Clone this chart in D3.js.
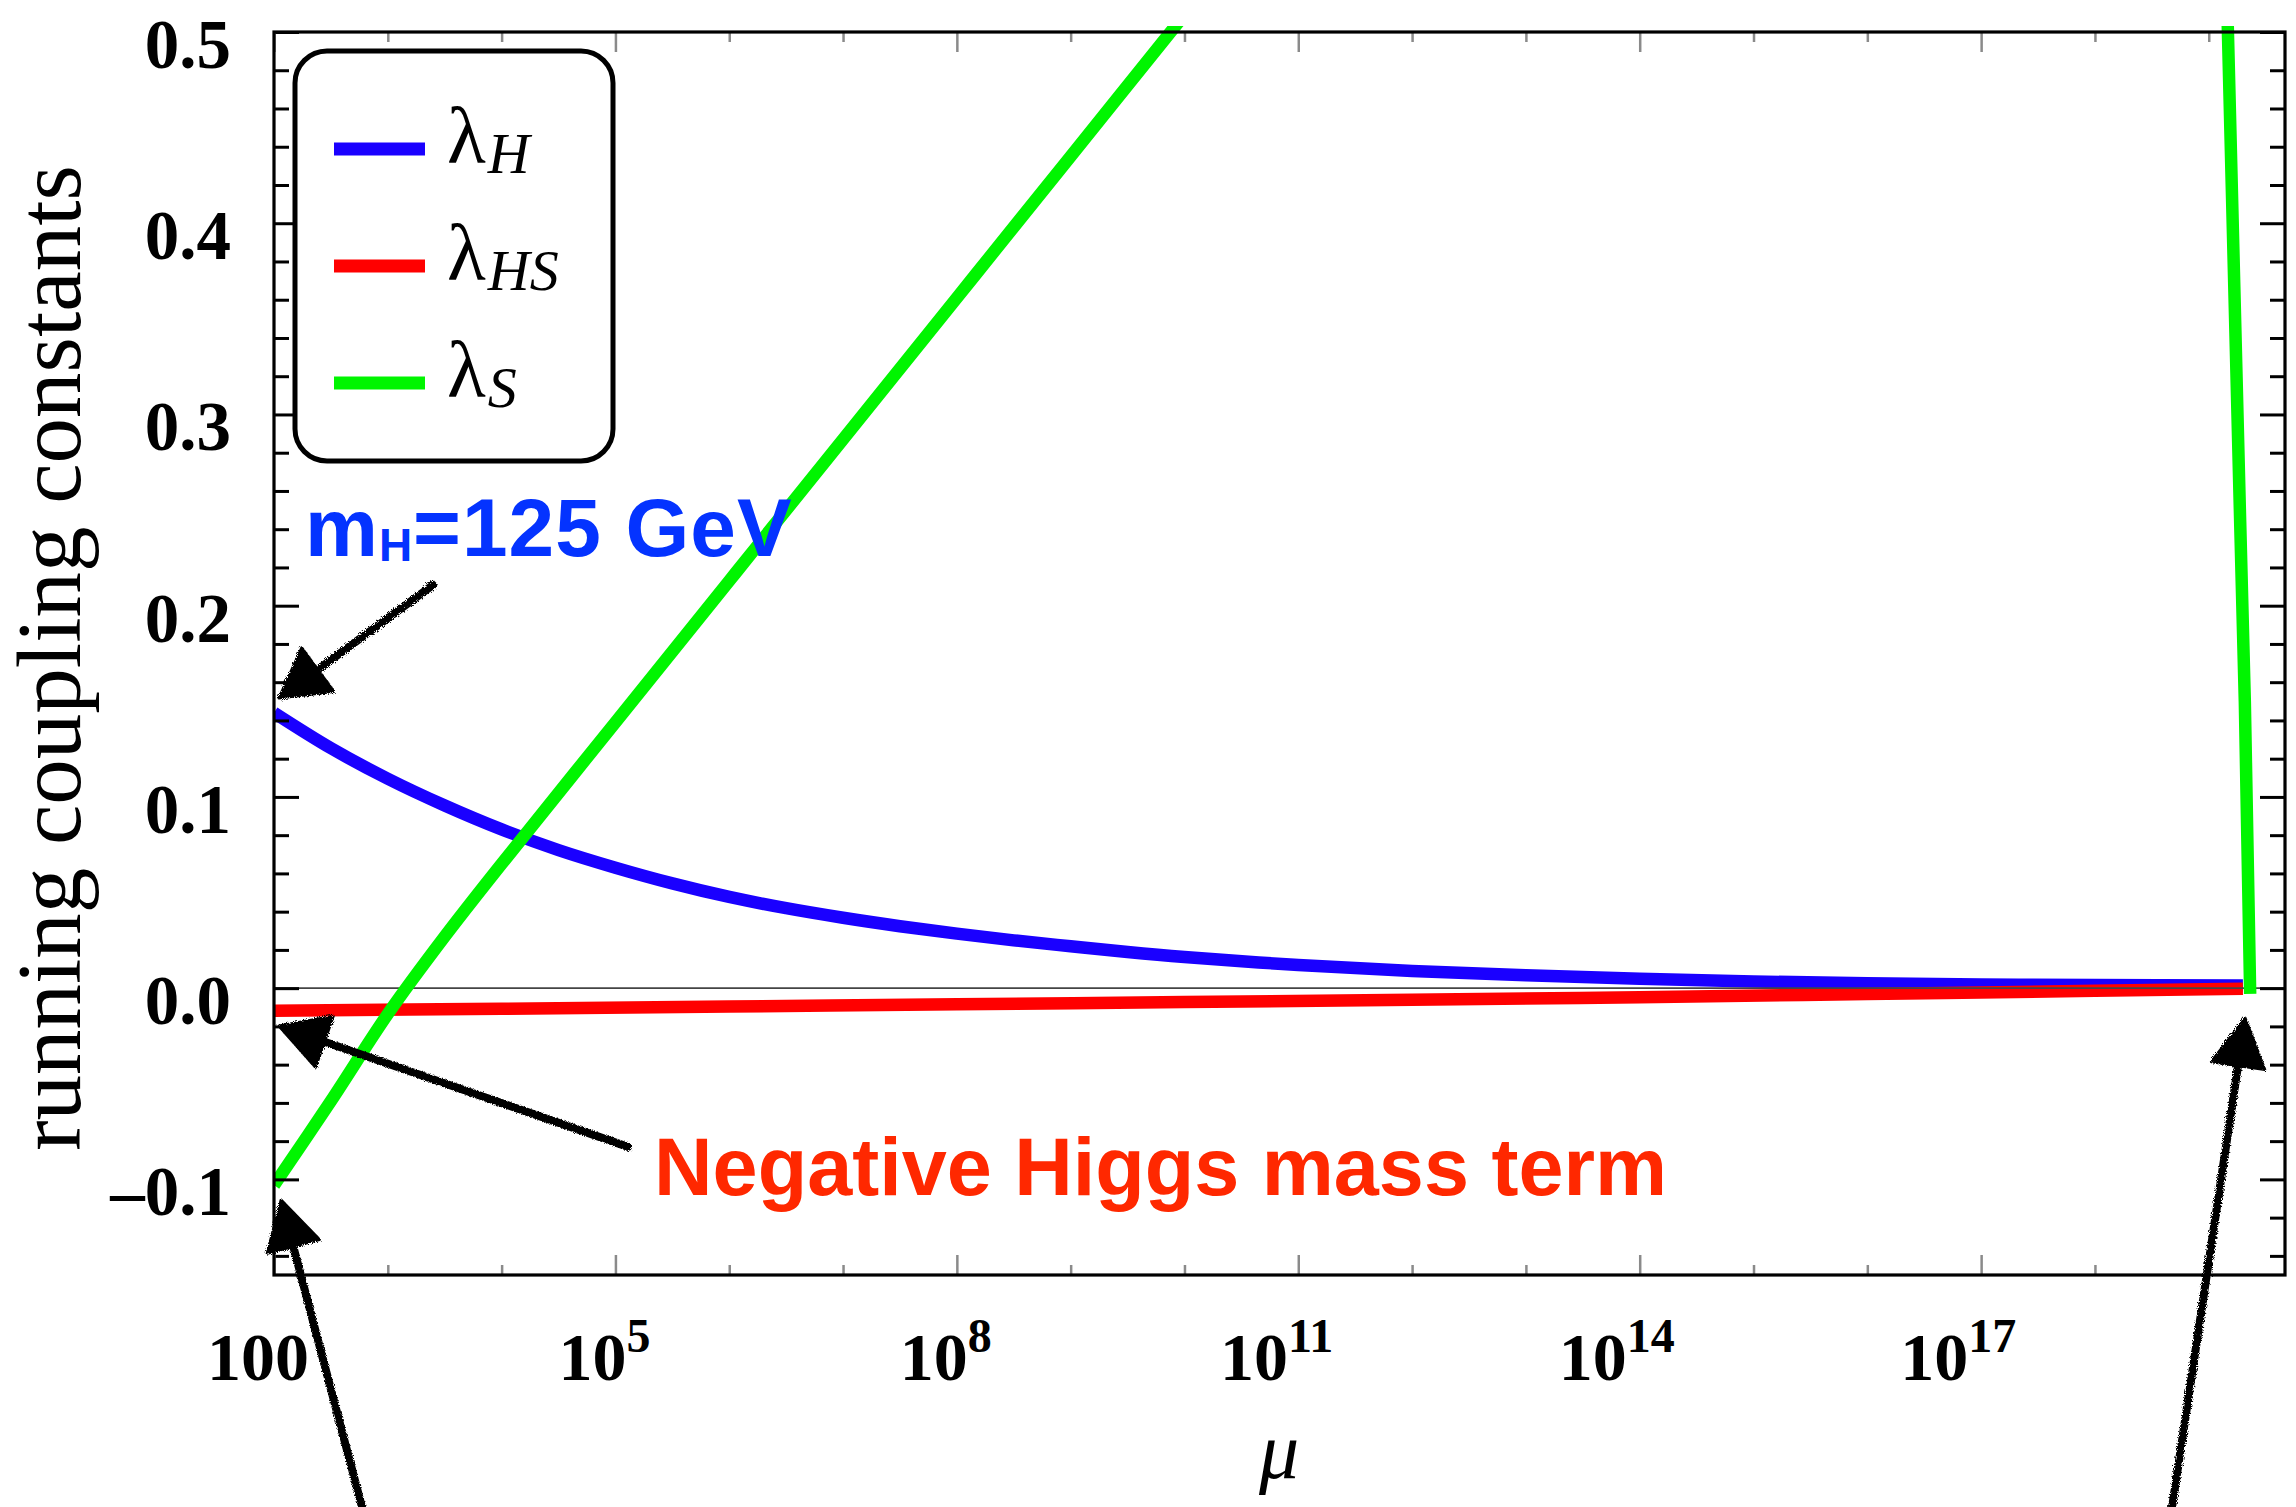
<!DOCTYPE html>
<html><head><meta charset="utf-8">
<script src="https://cdn.jsdelivr.net/npm/d3@7"></script>
<style>html,body{margin:0;padding:0;background:#fff;} svg{display:block;}</style>
</head><body>
<svg id="chart" width="2296" height="1507"></svg>
<script>
// ---------- data (x values are log10 of mu) ----------
const muExpH   = [2.0, 2.5, 3.0, 3.5, 4.0, 4.5, 5.0, 5.5, 6.0, 6.5, 7.0, 7.5, 8.0, 8.5, 9.0, 9.5, 10.0, 11.0, 12.0, 13.0, 14.0, 15.0, 16.0, 17.0, 18.0, 19.30];
const lambdaH  = [0.1440, 0.1255, 0.1095, 0.0955, 0.0830, 0.0722, 0.0630, 0.0548, 0.0477, 0.0418, 0.0368, 0.0324, 0.0285, 0.0250, 0.0219, 0.0189, 0.0163, 0.0121, 0.0090, 0.0067, 0.0049, 0.0035, 0.0025, 0.0019, 0.0016, 0.0014];

const muExpHS  = [2.0, 4.0, 6.0, 8.0, 10.0, 12.0, 14.0, 16.0, 18.0, 19.30];
const lambdaHS = [-0.0118, -0.0108, -0.0096, -0.0084, -0.0073, -0.0061, -0.0047, -0.0031, -0.0014, -0.0003];

const muExpS   = [2.0, 2.5, 3.0, 3.5, 4.0, 5.0, 6.0, 7.0, 8.0, 9.0, 10.0];
const lambdaS  = [-0.103, -0.059, -0.0135, 0.027, 0.065, 0.139, 0.213, 0.287, 0.361, 0.435, 0.509];

const muExpSEnd   = [19.160, 19.276, 19.317, 19.364];
const lambdaSEnd  = [0.52, 0.244, 0.150, -0.003];

const yTickValues = [-0.1, 0.0, 0.1, 0.2, 0.3, 0.4, 0.5];
const yTickLabels = ["\u20130.1", "0.0", "0.1", "0.2", "0.3", "0.4", "0.5"];
const xTickExps   = [2, 5, 8, 11, 14, 17];
const xTickBase   = ["100", "10", "10", "10", "10", "10"];
const xTickSup    = ["", "5", "8", "11", "14", "17"];
const legendSub   = ["H", "HS", "S"];
const seriesColors = ["#1a00ff", "#ff0000", "#00f500"];

// ---------- layout ----------
const W = 2296, H = 1507;
const L = 274, R = 2285, T = 32, B = 1275;
const serif = "'Liberation Serif','Times New Roman',serif";
const sans = "'Liberation Sans',Arial,sans-serif";

const svg = d3.select("#chart");
svg.append("rect").attr("width", W).attr("height", H).attr("fill", "#fff");

const defs = svg.append("defs");
defs.append("clipPath").attr("id", "plotclip").append("rect")
  .attr("x", L).attr("y", T - 6).attr("width", R - L).attr("height", B - T + 6);
const f = defs.append("filter").attr("id", "rough").attr("x", "-20%").attr("y", "-20%").attr("width", "140%").attr("height", "140%");
f.append("feTurbulence").attr("type", "fractalNoise").attr("baseFrequency", 1.1).attr("numOctaves", 2).attr("seed", 3).attr("result", "n");
f.append("feDisplacementMap").attr("in", "SourceGraphic").attr("in2", "n").attr("scale", 5);

const x = d3.scaleLog().domain([1e2, Math.pow(10, 19.67)]).range([L, R]);
const y = d3.scaleLinear().domain([-0.15, 0.5]).range([B, T]);

const line = d3.line()
  .x(d => x(Math.pow(10, d[0])))
  .y(d => y(d[1]))
  .curve(d3.curveCatmullRom.alpha(0.5));

const zip = (a, b) => a.map((v, i) => [v, b[i]]);

const plot = svg.append("g").attr("clip-path", "url(#plotclip)");
const lw = 12.5;
plot.append("path").datum(zip(muExpH, lambdaH)).attr("d", line)
  .attr("fill", "none").attr("stroke", seriesColors[0]).attr("stroke-width", lw);
plot.append("path").datum(zip(muExpHS, lambdaHS)).attr("d", line)
  .attr("fill", "none").attr("stroke", seriesColors[1]).attr("stroke-width", lw);
// zero axis line
plot.append("line").attr("x1", L).attr("x2", R).attr("y1", y(0)).attr("y2", y(0))
  .attr("stroke", "#444").attr("stroke-width", 1.6);
plot.append("path").datum(zip(muExpS, lambdaS)).attr("d", line)
  .attr("fill", "none").attr("stroke", seriesColors[2]).attr("stroke-width", lw);
plot.append("path").datum(zip(muExpSEnd, lambdaSEnd)).attr("d", d3.line().x(d => x(Math.pow(10, d[0]))).y(d => y(d[1])))
  .attr("fill", "none").attr("stroke", seriesColors[2]).attr("stroke-width", lw);

// ---------- frame ticks ----------
const yMinor = d3.range(-7, 25).filter(i => i % 5 !== 0).map(i => i * 0.02);
const xMinor = d3.range(3, 20).filter(e => !xTickExps.includes(e)).map(e => Math.pow(10, e));
const xMajor = xTickExps.map(e => Math.pow(10, e));

function styleAxis(g, color, w) {
  g.select(".domain").remove();
  g.selectAll("line").attr("stroke", color).attr("stroke-width", w);
  g.selectAll("text").remove();
}
svg.append("g").attr("transform", `translate(${L},0)`).call(d3.axisLeft(y).tickValues(yTickValues).tickSize(-25)).call(g => styleAxis(g, "#000", 3));
svg.append("g").attr("transform", `translate(${L},0)`).call(d3.axisLeft(y).tickValues(yMinor).tickSize(-15)).call(g => styleAxis(g, "#000", 3));
svg.append("g").attr("transform", `translate(${R},0)`).call(d3.axisRight(y).tickValues(yTickValues).tickSize(-25)).call(g => styleAxis(g, "#000", 3));
svg.append("g").attr("transform", `translate(${R},0)`).call(d3.axisRight(y).tickValues(yMinor).tickSize(-15)).call(g => styleAxis(g, "#000", 3));
svg.append("g").attr("transform", `translate(0,${B})`).call(d3.axisBottom(x).tickValues(xMajor).tickSize(-20)).call(g => styleAxis(g, "#8a8a8a", 2.5));
svg.append("g").attr("transform", `translate(0,${B})`).call(d3.axisBottom(x).tickValues(xMinor).tickSize(-10)).call(g => styleAxis(g, "#8a8a8a", 2.5));
svg.append("g").attr("transform", `translate(0,${T})`).call(d3.axisTop(x).tickValues(xMajor).tickSize(-20)).call(g => styleAxis(g, "#8a8a8a", 2.5));
svg.append("g").attr("transform", `translate(0,${T})`).call(d3.axisTop(x).tickValues(xMinor).tickSize(-10)).call(g => styleAxis(g, "#8a8a8a", 2.5));

svg.append("rect").attr("x", L).attr("y", T).attr("width", R - L).attr("height", B - T)
  .attr("fill", "none").attr("stroke", "#000").attr("stroke-width", 3.2);

// ---------- tick labels ----------
svg.append("g").selectAll("text").data(yTickValues).join("text")
  .attr("x", 231).attr("y", d => y(d) + 36)
  .attr("text-anchor", "end").attr("font-family", serif).attr("font-weight", "bold")
  .attr("font-size", 69).attr("fill", "#000")
  .text((d, i) => yTickLabels[i]);

const xl = svg.append("g").selectAll("text").data(xTickExps).join("text")
  .attr("x", d => x(Math.pow(10, d)) + 35).attr("y", 1380)
  .attr("text-anchor", "end").attr("font-family", serif).attr("font-weight", "bold")
  .attr("font-size", 68).attr("fill", "#000");
xl.append("tspan").text((d, i) => xTickBase[i]);
xl.append("tspan").attr("dy", -28).attr("font-size", 48).text((d, i) => xTickSup[i]);

// axis titles
svg.append("text").attr("transform", "translate(80,658) rotate(-90)")
  .attr("text-anchor", "middle").attr("font-family", serif).attr("font-size", 91)
  .attr("fill", "#000").text("running coupling constants");
svg.append("text").attr("x", 1279).attr("y", 1478).attr("text-anchor", "middle")
  .attr("font-family", serif).attr("font-style", "italic").attr("font-size", 80)
  .attr("fill", "#000").text("\u03bc");

// ---------- legend ----------
const lg = svg.append("g");
lg.append("rect").attr("x", 295).attr("y", 51).attr("width", 318).attr("height", 410)
  .attr("rx", 32).attr("ry", 32).attr("fill", "#fff").attr("stroke", "#000").attr("stroke-width", 5);
const legendY = [149, 266, 383];
legendSub.forEach((s, i) => {
  lg.append("line").attr("x1", 334).attr("x2", 425).attr("y1", legendY[i]).attr("y2", legendY[i])
    .attr("stroke", seriesColors[i]).attr("stroke-width", 13);
  const t = lg.append("text").attr("x", 447).attr("y", legendY[i] + 14)
    .attr("font-family", serif).attr("font-size", 80).attr("fill", "#000");
  t.append("tspan").text("\u03bb");
  t.append("tspan").attr("dx", 2).attr("dy", 10).attr("font-size", 58).attr("font-style", "italic").text(s);
});

// ---------- annotations (anchored in data coordinates) ----------
const ann = svg.append("g");
const mt = ann.append("text").attr("x", x(Math.pow(10, 2.272))).attr("y", y(0.2258))
  .attr("font-family", sans).attr("font-weight", "bold").attr("font-size", 82)
  .attr("letter-spacing", 1).attr("fill", "#0433ff");
mt.append("tspan").text("m");
mt.append("tspan").attr("dy", 5).attr("font-size", 46).text("H");
mt.append("tspan").attr("dy", -5).text("=125 GeV");

ann.append("text").attr("x", x(Math.pow(10, 5.34))).attr("y", y(-0.1081))
  .attr("font-family", sans).attr("font-weight", "bold").attr("font-size", 81).attr("fill", "#ff2800")
  .text("Negative Higgs mass term");

// hand-drawn arrows: [tail logmu, tail value, tip logmu, tip value]
const arrowsData = [
  [3.397, 0.2108, 2.044, 0.1517],
  [5.111, -0.0830, 2.044, -0.0198],
  [2.773, -0.2713, 2.062, -0.1108],
  [18.678, -0.2713, 19.320, -0.0157]
];
const ag = svg.append("g").attr("filter", "url(#rough)");
arrowsData.forEach(a => {
  const tx = x(Math.pow(10, a[0])), ty = y(a[1]);
  const hx = x(Math.pow(10, a[2])), hy = y(a[3]);
  const dx = hx - tx, dy = hy - ty, len = Math.hypot(dx, dy);
  const ux = dx / len, uy = dy / len, px = -uy, py = ux;
  const hl = 48, hw = 27;
  const bx = hx - ux * hl, by = hy - uy * hl;
  ag.append("line").attr("x1", tx).attr("y1", ty).attr("x2", bx + ux * 6).attr("y2", by + uy * 6)
    .attr("stroke", "#000").attr("stroke-width", 8).attr("stroke-linecap", "round");
  ag.append("path").attr("d", `M${hx},${hy}L${bx + px * hw},${by + py * hw}L${bx - px * hw},${by - py * hw}Z`)
    .attr("fill", "#000").attr("stroke", "#000").attr("stroke-width", 3).attr("stroke-linejoin", "round");
});
</script>
</body></html>
